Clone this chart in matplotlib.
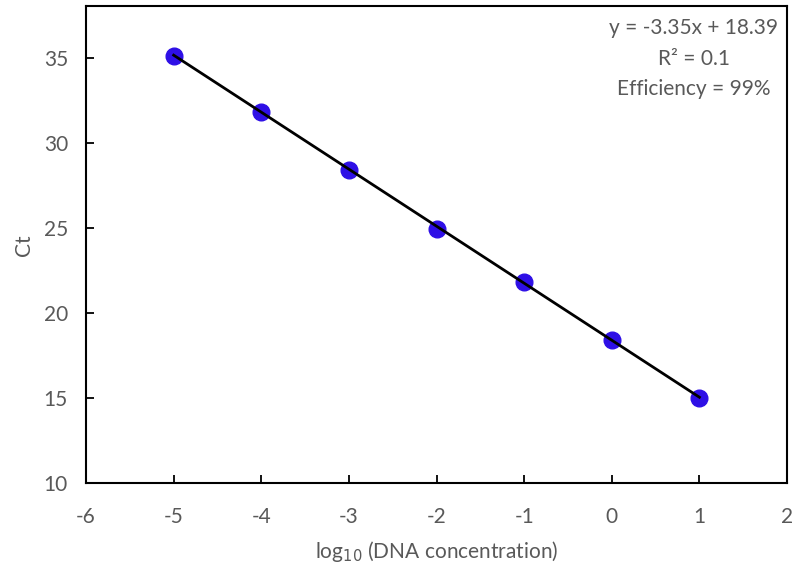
import matplotlib
matplotlib.use("Agg")
import matplotlib.pyplot as plt
import numpy as np

# Standard curve data
log_conc = [-5, -4, -3, -2, -1, 0, 1]
ct_values = [35.1, 31.8, 28.4, 24.9, 21.8, 18.4, 15.0]
slope = -3.35
intercept = 18.39
r_squared = 0.1
efficiency = 99

x_ticks = [-6, -5, -4, -3, -2, -1, 0, 1, 2]
y_ticks = [10, 15, 20, 25, 30, 35]

plt.rcParams['font.family'] = ['Lato', 'DejaVu Sans']
text_color = '#595959'
fs = 15

fig = plt.figure(figsize=(7.95, 5.64), dpi=100)
ax = fig.add_axes([0.1082, 0.1436, 0.8818, 0.8449])

fit_x = np.array([min(log_conc), max(log_conc)])
fit_y = slope * fit_x + intercept

ax.plot(log_conc, ct_values, 'o', color='#2E0FE6', markersize=12, zorder=2)
ax.plot(fit_x, fit_y, color='black', lw=2, zorder=3)

ax.set_xlim(-6, 2)
ax.set_ylim(10, 38)
ax.set_xticks(x_ticks)
ax.set_yticks(y_ticks)
ax.set_xticklabels([str(t) for t in x_ticks])
ax.set_yticklabels([str(t) for t in y_ticks])

for s in ax.spines.values():
    s.set_linewidth(1.5)
    s.set_color('black')

ax.tick_params(axis='both', direction='in', length=6, width=1.3,
               labelsize=fs, labelcolor=text_color, color='black')
ax.tick_params(axis='x', pad=17)
ax.tick_params(axis='y', pad=13)

ax.set_xlabel('log$_{10}$ (DNA concentration)', fontsize=fs, color=text_color, labelpad=9)
ax.set_ylabel('Ct', fontsize=fs, color=text_color, labelpad=7)

ax.text(0.867, 0.975,
        f'y = {slope:.2f}x + {intercept:.2f}\nR² = {r_squared}\nEfficiency = {efficiency}%',
        transform=ax.transAxes, ha='center', va='top', multialignment='center',
        fontsize=fs, color=text_color, linespacing=1.65)

fig.savefig('out.png', dpi=100)
